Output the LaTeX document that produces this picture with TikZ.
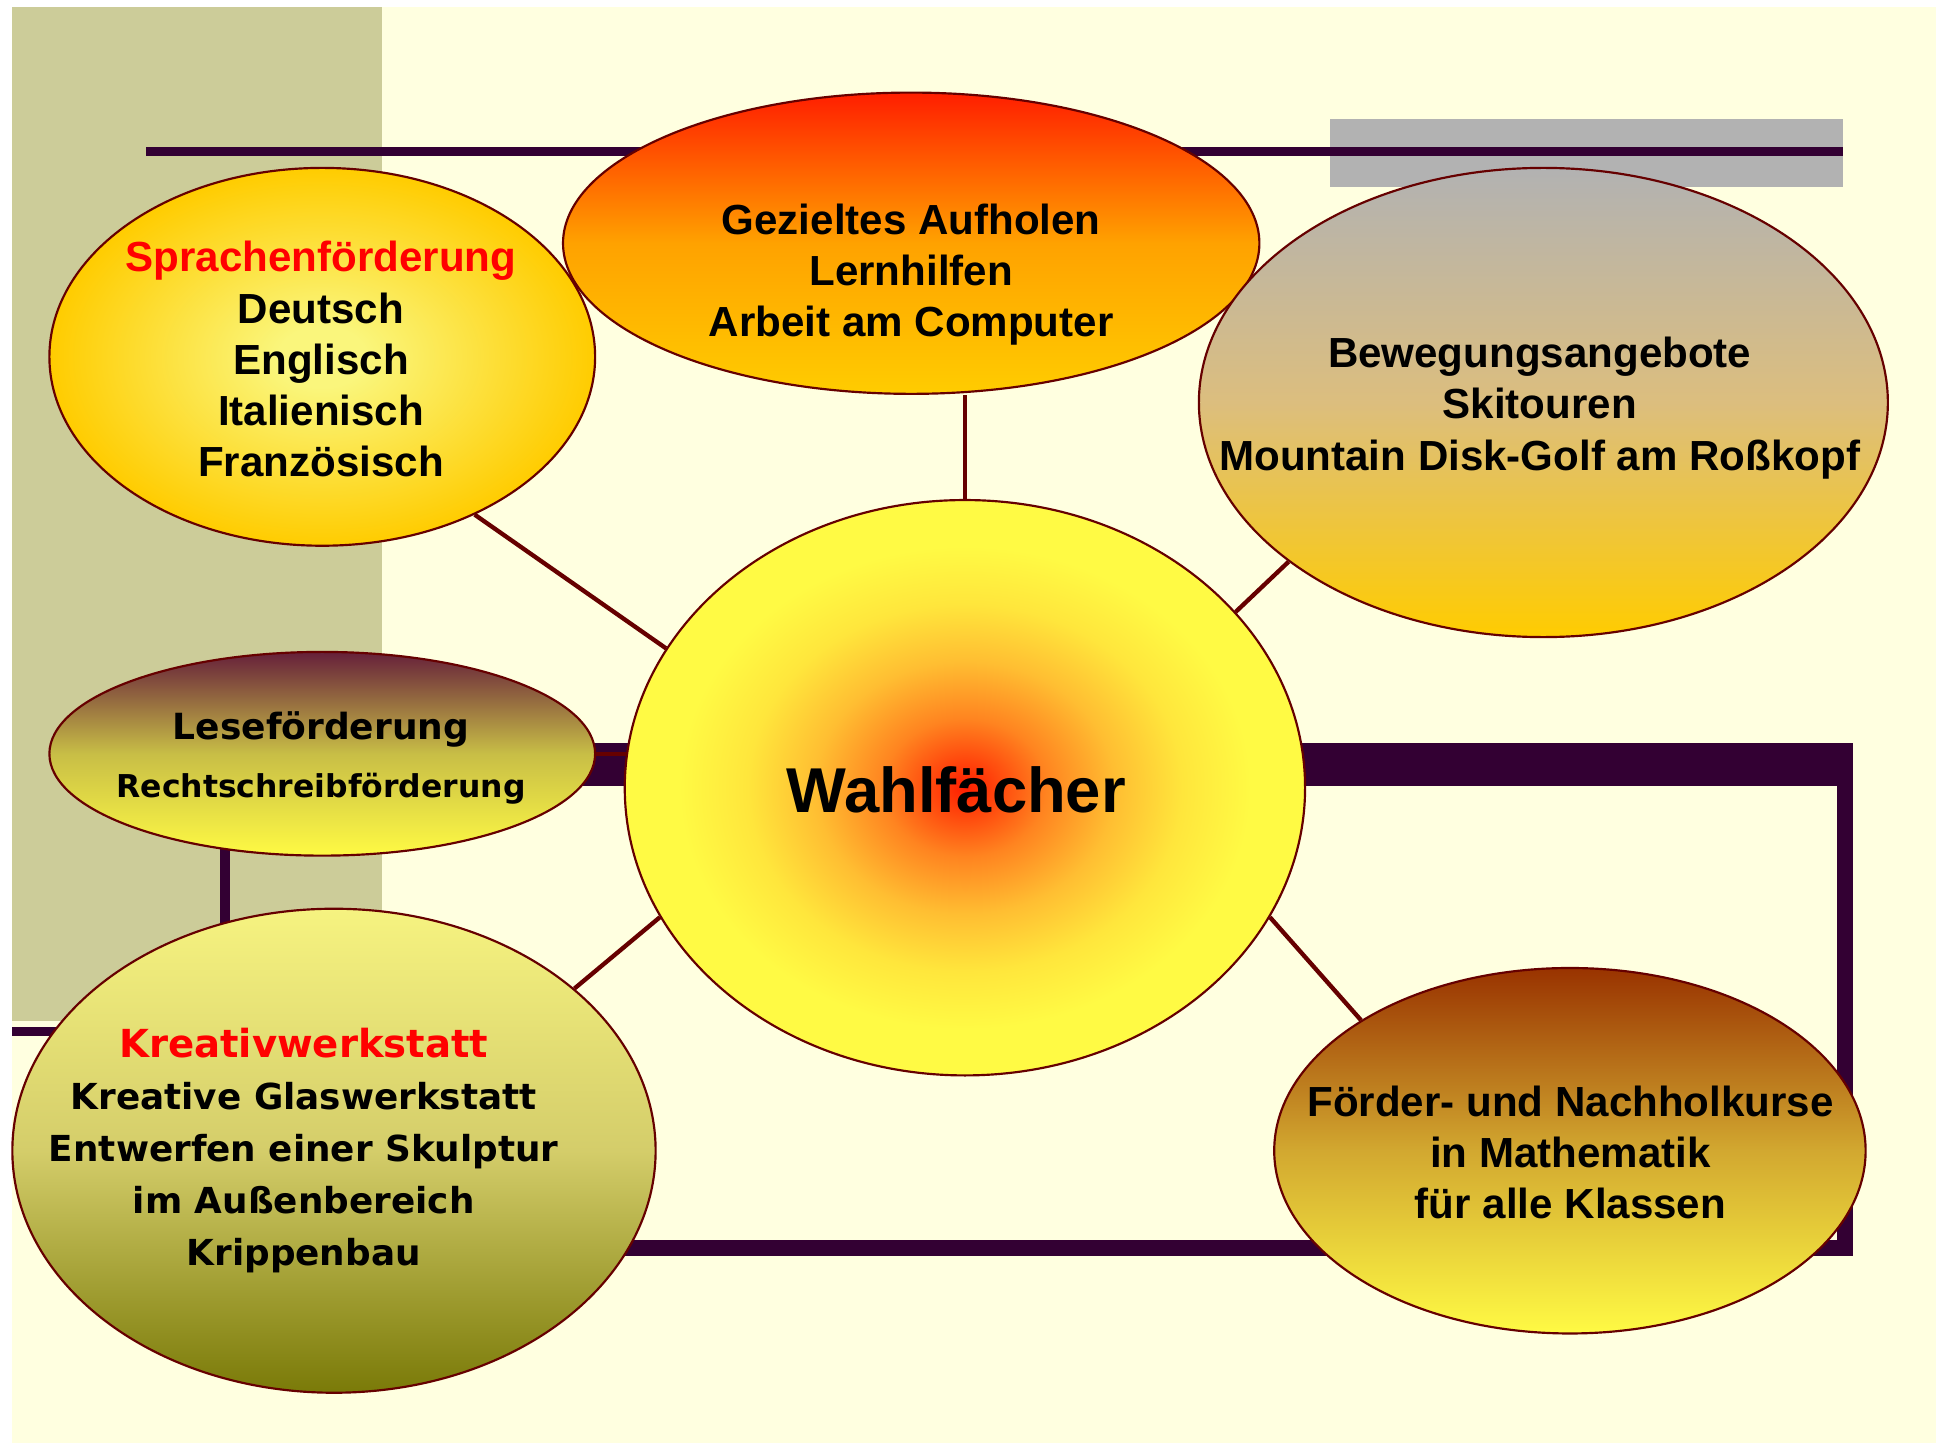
\documentclass[tikz,border=0pt]{standalone}
\usepackage{fontspec}
\setmainfont{Liberation Sans}
\newfontfamily\breitfont{DejaVu Sans}
\usetikzlibrary{shapes.geometric,positioning}

\definecolor{creme}{HTML}{FFFFE0}
\definecolor{khaki}{HTML}{CCCC99}
\definecolor{rahmen}{HTML}{330033}
\definecolor{grau}{HTML}{B2B2B2}
\definecolor{linie}{HTML}{660000}
\definecolor{goldgelb}{HTML}{FFCC00}
\definecolor{hellgelb}{HTML}{FAF67C}
\definecolor{knallgelb}{HTML}{FFFA44}
\definecolor{feuerrot}{HTML}{FF1E00}
\definecolor{orangeA}{HTML}{FF8420}
\definecolor{orangeB}{HTML}{FFBE32}
\definecolor{orangeC}{HTML}{FFE63C}
\definecolor{braun}{HTML}{993300}
\definecolor{weinrot}{HTML}{66203A}
\definecolor{oliv}{HTML}{7A7A08}
\definecolor{blassgelb}{HTML}{F6F380}

\pgfdeclareradialshading{sprachenschein}{\pgfpoint{0bp}{0bp}}{color(0bp)=(hellgelb); color(4bp)=(hellgelb); color(25bp)=(goldgelb); color(50bp)=(goldgelb)}
\pgfdeclareradialshading{wahlschein}{\pgfpoint{0bp}{0bp}}{color(0bp)=(feuerrot); color(6bp)=(orangeA); color(11bp)=(orangeB); color(16bp)=(orangeC); color(21bp)=(knallgelb); color(50bp)=(knallgelb)}

\pgfdeclarelayer{background}
\pgfsetlayers{background,main}

\begin{document}
\begin{tikzpicture}[
		oval/.style={ellipse, draw=linie, line width=0.5pt, inner sep=0pt},
		txt/.style={align=center, font=\bfseries\fontsize{9.7}{11.8}\selectfont},
		breit/.style={align=center, font=\breitfont\bfseries\fontsize{8.25}{11.95}\selectfont},
		verbindung/.style={draw=linie, line width=1pt}
	]
		\useasboundingbox (0,0) rectangle (15.68,11.69);
		
		% Hintergrund
		\begin{pgfonlayer}{background}
			\fill[white] (0,0) rectangle (15.68,11.69);
			\fill[creme] (0.10,0) rectangle (15.68,11.635);
			\fill[khaki] (0.10,3.42) rectangle (3.09,11.635);
			\fill[grau] (10.77,10.175) rectangle (14.93,10.725);
			\fill[rahmen] (1.18,10.425) rectangle (14.93,10.503);
			\fill[rahmen] (0.10,3.30) rectangle (1.86,3.37);
			
			% Rahmen
			\fill[rahmen] (1.78,5.32) rectangle (15.01,5.67);
			\fill[rahmen] (14.88,1.52) rectangle (15.01,5.67);
			\fill[rahmen] (1.78,1.52) rectangle (15.01,1.65);
			\fill[rahmen] (1.78,1.52) rectangle (1.86,5.67);
		\end{pgfonlayer}
		
		% Ellipsen
		\node[oval, minimum width=5.64cm, minimum height=2.44cm, top color=feuerrot, bottom color=goldgelb, middle color=orange!55!goldgelb] (gez) at (7.38,9.72) {};
		\node[oval, minimum width=4.42cm, minimum height=3.06cm, shading=sprachenschein] (sprachen) at (2.61,8.80) {};
		\node[oval, minimum width=5.58cm, minimum height=3.80cm, top color=grau, bottom color=goldgelb, middle color={rgb,255:red,220;green,190;blue,126}] (bewegung) at (12.50,8.43) {};
		\node[oval, minimum width=5.51cm, minimum height=4.66cm, shading=wahlschein] (zentrale) at (7.815,5.31) {};
		\node[oval, minimum width=4.42cm, minimum height=1.65cm, top color=weinrot, bottom color=knallgelb, middle color={rgb,255:red,200;green,190;blue,70}] (lese) at (2.61,5.585) {};
		\node[oval, minimum width=5.21cm, minimum height=3.92cm, top color=blassgelb, bottom color=oliv, middle color={rgb,255:red,212;green,205;blue,106}] (kreativ) at (2.705,2.37) {};
		\node[oval, minimum width=4.79cm, minimum height=2.96cm, top color=braun, bottom color=knallgelb, middle color={rgb,255:red,210;green,168;blue,48}] (foerder) at (12.715,2.37) {};
		
		% Texte
		\node[txt] (gez-text) at (7.38,9.465) {Gezieltes Aufholen\\Lernhilfen\\Arbeit am Computer};
		\node[txt] (sprachen-text) at (2.60,8.78) {\textcolor{red}{Sprachenförderung}\\Deutsch\\Englisch\\Italienisch\\Französisch};
		\node[txt] (bewegung-text) at (12.47,8.385) {Bewegungsangebote\\Skitouren\\Mountain Disk-Golf am Roßkopf};
		\node[font=\bfseries\fontsize{14.6}{17}\selectfont] (zentrale-text) at (7.745,5.29) {Wahlfächer};
		\node[align=center, font=\breitfont\bfseries\fontsize{7.25}{13.4}\selectfont] (lese-text) at (2.60,5.55) {{\fontsize{8.3}{13.4}\selectfont Leseförderung}\\Rechtschreibförderung};
		\node[breit] (kreativ-text) at (2.46,2.37) {{\fontsize{8.9}{11.95}\selectfont\textcolor{red}{Kreativwerkstatt}}\\Kreative Glaswerkstatt\\Entwerfen einer Skulptur\\im Außenbereich\\Krippenbau};
		\node[txt] (foerder-text) at (12.72,2.355) {Förder- und Nachholkurse\\in Mathematik\\für alle Klassen};
		
		% Verbindungen
		\begin{pgfonlayer}{background}
			\draw[verbindung] (sprachen.-46.6) -- (zentrale.155.4);
			\draw[verbindung] (zentrale.north) -- (zentrale.north |- gez.south);
			\draw[verbindung] (bewegung.212.4) -- (zentrale.33.6);
			\draw[verbindung] (lese) -- (lese -| zentrale);
			\draw[verbindung] (kreativ.34) -- (zentrale.203.5);
			\draw[verbindung] (foerder.148.9) -- (zentrale.337.7);
		\end{pgfonlayer}
	\end{tikzpicture}
\end{document}
